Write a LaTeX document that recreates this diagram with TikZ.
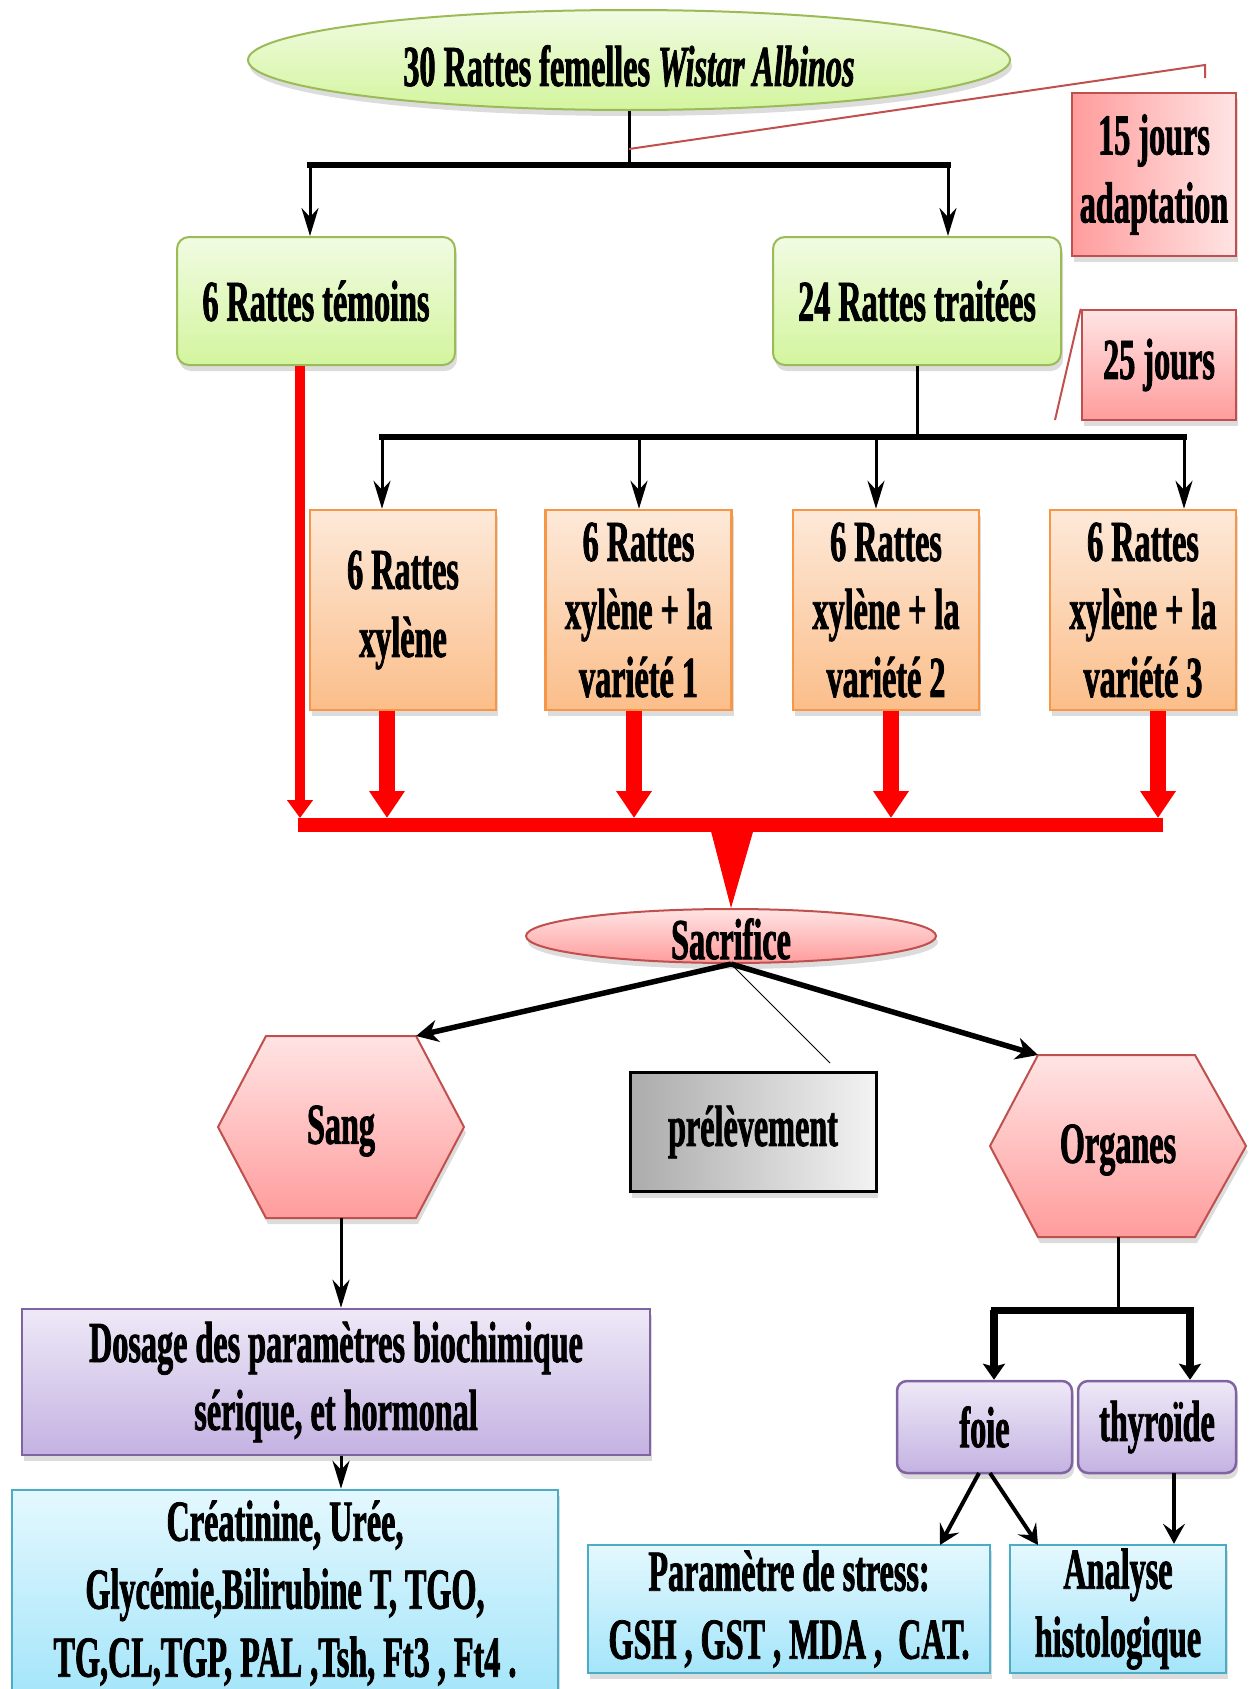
\documentclass[tikz,border=0pt]{standalone}
\usepackage{fontspec}
\setmainfont{Liberation Serif}[FakeStretch=0.555, BoldFeatures={FakeBold=1.3}, BoldItalicFeatures={FakeBold=1.3}]
\usetikzlibrary{arrows.meta,shadows,shapes.geometric,calc}
\definecolor{greenT}{HTML}{F1FBE2}
\definecolor{greenB}{HTML}{D3F59E}
\definecolor{greenD}{HTML}{9BBB59}
\definecolor{orT}{HTML}{FDE9D9}
\definecolor{orB}{HTML}{FBBE8A}
\definecolor{orD}{HTML}{F79646}
\definecolor{redD}{HTML}{C0504D}
\definecolor{pkT}{HTML}{FFE4E4}
\definecolor{pkB}{HTML}{FF9C9C}
\definecolor{puT}{HTML}{EEE9F7}
\definecolor{puB}{HTML}{C4B2E2}
\definecolor{puD}{HTML}{8064A2}
\definecolor{cyT}{HTML}{E4F8FE}
\definecolor{cyB}{HTML}{A4E5FA}
\definecolor{cyD}{HTML}{4BACC6}
\definecolor{grL}{HTML}{ABABAB}
\definecolor{grR}{HTML}{F3F3F3}
\definecolor{arred}{HTML}{FF0000}
\begin{document}
\begin{tikzpicture}[x=1pt,y=-1pt,
  base/.style={font=\fontsize{58}{68}\selectfont\bfseries, align=center, inner sep=0pt, text=black},
  shad/.style={drop shadow={shadow xshift=2pt, shadow yshift=-6pt, opacity=0.28}},
  gbox/.style={base, shad, rectangle, rounded corners=12pt, draw=greenD, line width=2pt, top color=greenT, bottom color=greenB},
  obox/.style={base, shad, rectangle, draw=orD, line width=2.5pt, top color=orT, bottom color=orB, minimum width=186pt, minimum height=200pt},
  pbox/.style={base, shad, rectangle, draw=puD, line width=2.5pt, top color=puT, bottom color=puB},
  cbox/.style={base, shad, rectangle, draw=cyD, line width=2.5pt, top color=cyT, bottom color=cyB},
  rbox/.style={base, shad, rectangle, draw=redD, line width=2.5pt},
  ell/.style={base, shad, ellipse, line width=2pt},
  thinarr/.style={draw=black, line width=3pt, -{Stealth[length=28pt,width=17pt,inset=9pt]}},
  bigred/.style={draw=arred, line width=16pt, -{Triangle[length=27pt,width=34pt]}},
  callout/.style={draw=redD, line width=2pt},
  sacarr/.style={draw=black, line width=5.5pt, -{Stealth[length=22pt,width=22pt,inset=7pt]}},
  orgarr/.style={draw=black, line width=8pt, -{Stealth[length=16pt,width=22pt,inset=3pt]}},
  foiearr/.style={draw=black, line width=4pt, -{Stealth[length=20pt,width=22pt,inset=8pt]}},
]
\useasboundingbox (0,0) rectangle (1254,1689);
\clip (0,0) rectangle (1254,1689);

% ---- top ----
\node[ell, draw=greenD, top color=greenT, bottom color=greenB, minimum width=762pt, minimum height=100pt] (top) at (629,60) {};
\node[base] (toptxt) at (629,66) {30 Rattes femelles \textit{Wistar Albinos}};
\coordinate (tb) at (629,165);
\coordinate (tbL) at (310,165);
\coordinate (tbR) at (948,165);
\draw[line width=3pt] (top.south) -- (tb);
\draw[line width=6pt, line cap=rect] (tbL) -- (tbR);

\node[gbox, minimum width=278pt, minimum height=128pt] (temoins) at (316,301) {6 Rattes témoins};
\node[gbox, minimum width=288pt, minimum height=128pt] (traitees) at (917,301) {24 Rattes traitées};
\draw[thinarr] (tbL) -- (tbL |- temoins.north);
\draw[thinarr] (tbR) -- (tbR |- traitees.north);

% callouts
\coordinate (c1a) at (629,149);
\coordinate (c1b) at (1205,65);
\coordinate (c1c) at (1205,78);
\draw[callout] (c1a) -- (c1b) -- (c1c);
\node[rbox, left color=pkB, right color=pkT, minimum width=164pt, minimum height=163pt] (j15) at (1154,174.5) {15 jours\\adaptation};
\node[rbox, top color=pkT, bottom color=pkB, minimum width=154pt, minimum height=110pt] (j25) at (1159,365) {25 jours};
\coordinate (c2) at (1055,420);
\draw[callout] (j25.north west) -- (c2);

% ---- second level ----
\coordinate (b2a) at (382,437);
\coordinate (b2b) at (639,437);
\coordinate (b2c) at (876,437);
\coordinate (b2d) at (1184,437);
\draw[line width=3pt] (traitees.south) -- (traitees.south |- b2a);
\draw[line width=6pt, line cap=rect] (b2a) -- (b2d);

\node[obox] (o1) at (403,610) {6 Rattes\\xylène};
\node[obox] (o2) at (638.5,610) {6 Rattes\\xylène + la\\variété 1};
\node[obox] (o3) at (886,610) {6 Rattes\\xylène + la\\variété 2};
\node[obox] (o4) at (1143,610) {6 Rattes\\xylène + la\\variété 3};
\draw[thinarr] (b2a) -- (b2a |- o1.north);
\draw[thinarr] (b2b) -- (b2b |- o2.north);
\draw[thinarr] (b2c) -- (b2c |- o3.north);
\draw[thinarr] (b2d) -- (b2d |- o4.north);

% ---- red arrows ----
\coordinate (r0) at (300,818);
\coordinate (r1) at (387,818);
\coordinate (r2) at (634,818);
\coordinate (r3) at (891,818);
\coordinate (r4) at (1158,818);
\draw[draw=arred, line width=10pt, -{Triangle[length=18pt,width=25pt]}] (temoins.south -| r0) -- (r0);
\draw[bigred] (o1.south -| r1) -- (r1);
\draw[bigred] (o2.south -| r2) -- (r2);
\draw[bigred] (o3.south -| r3) -- (r3);
\draw[bigred] (o4.south -| r4) -- (r4);
\coordinate (rbL) at (298,825);
\coordinate (rbR) at (1163,825);
\draw[draw=arred, line width=14pt] (rbL) -- (rbR);

% ---- sacrifice ----
\node[ell, draw=redD, top color=pkT, bottom color=pkB, minimum width=410pt, minimum height=54pt] (sac) at (731,936) {};
\node[base] (sactxt) at (731,939) {Sacrifice};
\coordinate (bm) at (732,832);
\draw[draw=arred, line width=1pt, -{Triangle[length=77pt,width=42pt]}] (bm) -- (sac.north);

% ---- hexagons ----
\path[shad, draw=redD, line width=2pt, top color=pkT, bottom color=pkB]
  (218,1127) -- (266,1036) -- (416,1036) -- (464,1127) -- (416,1218) -- (266,1218) -- cycle;
\node[base] (sang) at (341,1131) {Sang};
\coordinate (sangTR) at (416,1036);
\coordinate (sangB) at (341,1218);

\path[shad, draw=redD, line width=2pt, top color=pkT, bottom color=pkB]
  (990,1146) -- (1038,1055) -- (1195,1055) -- (1246,1146) -- (1195,1237) -- (1038,1237) -- cycle;
\node[base] (org) at (1118,1150) {Organes};
\coordinate (orgTL) at (1038,1055);
\coordinate (orgB) at (1118,1237);

\draw[sacarr] (sac.south) -- (sangTR);
\draw[sacarr] (sac.south) -- (orgTL);
\coordinate (callP) at (830,1063);
\draw[line width=1pt] (sac.south) -- (callP);

\node[base, shad, draw=black, line width=3pt, left color=grL, right color=grR, minimum width=246pt, minimum height=119pt] (prel) at (753,1132) {prélèvement};

% ---- left branch ----
\node[pbox, minimum width=628pt, minimum height=146pt] (dos) at (336,1382) {Dosage des paramètres biochimique\\sérique, et hormonal};
\node[cbox, minimum width=546pt, minimum height=206pt] (crea) at (285,1593) {Créatinine, Urée,\\Glycémie,Bilirubine T, TGO,\\TG,CL,TGP, PAL ,Tsh, Ft3 , Ft4 .};
\draw[thinarr] (sangB) -- (sangB |- dos.north);
\draw[thinarr] (dos.south -| sangB) -- (sangB |- crea.north);

% ---- right branch ----
\coordinate (ob) at (1118,1310);
\coordinate (obL) at (994,1310);
\coordinate (obR) at (1190,1310);
\draw[line width=3pt] (orgB) -- (ob);
\draw[line width=7pt, line cap=rect] (obL) -- (obR);

\node[pbox, rounded corners=10pt, minimum width=175pt, minimum height=92pt] (foie) at (984.5,1427) {foie};
\node[pbox, rounded corners=10pt, minimum width=158pt, minimum height=92pt] (thyr) at (1157,1427) {thyroïde};
\draw[orgarr] (obL) -- (obL |- foie.north);
\draw[orgarr] (obR) -- (obR |- thyr.north);

\node[cbox, minimum width=402pt, minimum height=128pt] (param) at (789,1609) {Paramètre de stress:\\GSH , GST , MDA ,\ \ CAT.};
\node[cbox, minimum width=216pt, minimum height=128pt] (ana) at (1118,1609) {Analyse\\histologique};

\coordinate (fs1) at (979,1473);
\coordinate (fs2) at (990,1473);
\coordinate (pe) at (940,1545);
\coordinate (ae) at (1038,1545);
\coordinate (ts) at (1174,1473);
\draw[foiearr] (fs1) -- (pe);
\draw[foiearr] (fs2) -- (ae);
\draw[foiearr] (ts) -- (ts |- ana.north);
\end{tikzpicture}
\end{document}
